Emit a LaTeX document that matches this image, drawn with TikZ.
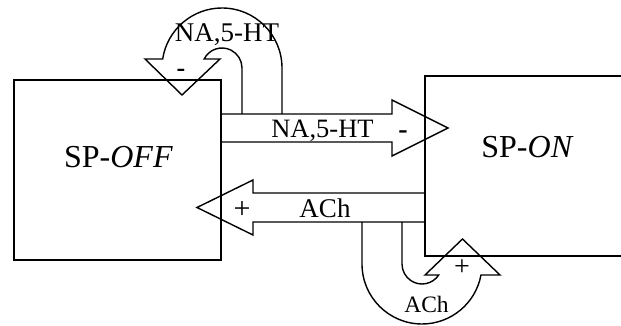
\documentclass[tikz,border=0pt]{standalone}
\usepackage{fontspec}
\setmainfont{Liberation Serif}
\begin{document}
\begin{tikzpicture}[x=1pt,y=1pt,
  box/.style={draw,line width=1.9pt,inner sep=0pt},
  blockarrow/.style={draw,line width=1.4pt,line join=miter},
  lbl/.style={inner sep=0pt,anchor=base},
  signlbl/.style={inner sep=0pt,anchor=center}]
\useasboundingbox (0,0) rectangle (621,326);
\clip (0,0) rectangle (621,326);
% boxes
\node[box,minimum width=207pt,minimum height=180pt] (off) at (117.5,156) {};
\node[box,minimum width=220pt,minimum height=180pt] (on) at (535,160) {};
\node[lbl,font=\fontsize{32}{36}\selectfont] (offl) at (118.5,158) {SP-\textit{OFF}};
\node[lbl,font=\fontsize{32}{36}\selectfont] (onl) at (527.5,168) {SP-\textit{ON}};
% upper straight arrow (NA,5-HT) from SP-OFF to SP-ON
\draw[blockarrow] (off.east |- 0,212) -- (392,212) -- (392,226) -- (448,198)
  -- (392,170) -- (392,184) -- (off.east |- 0,184);
\node[lbl,font=\fontsize{26.5}{30}\selectfont] (na1) at (322.5,188) {NA,5-HT};
\node[signlbl,font=\bfseries\fontsize{28}{30}\selectfont] (m1) at (403,191) {-};
% lower straight arrow (ACh) from SP-ON to SP-OFF
\draw[blockarrow] (on.west |- 0,133) -- (253,133) -- (253,146) -- (197,118.5)
  -- (253,91) -- (253,104) -- (on.west |- 0,104);
\node[lbl,font=\fontsize{27}{30}\selectfont] (ach1) at (325,108) {ACh};
\node[signlbl,font=\fontsize{30}{32}\selectfont] (p1) at (242,116) {+};
% upper curved arrow (feedback on SP-OFF)
\draw[blockarrow] (282,212) -- (282,258) arc[start angle=0,end angle=171.37,radius=60]
  -- (145,267) -- (182,231) -- (220,267) -- (204.14,267)
  arc[start angle=153.26,end angle=0,radius=20] -- (242,212);
\node[lbl,font=\fontsize{27}{30}\selectfont] (na2) at (227,284) {NA,5-HT};
\node[signlbl,font=\bfseries\fontsize{26}{28}\selectfont] (m2) at (181,253) {-};
% lower curved arrow (feedback on SP-ON)
\draw[blockarrow] (362,104) -- (362,62) arc[start angle=180,end angle=349.44,radius=60]
  -- (500,51) -- (462.5,87) -- (425,51) -- (438.7,51)
  arc[start angle=-33.37,end angle=-180,radius=20] -- (402,104);
\node[lbl,font=\fontsize{23.5}{26}\selectfont] (ach2) at (426.5,13) {ACh};
\node[signlbl,font=\fontsize{28}{30}\selectfont] (p2) at (462,58) {+};
\end{tikzpicture}
\end{document}
